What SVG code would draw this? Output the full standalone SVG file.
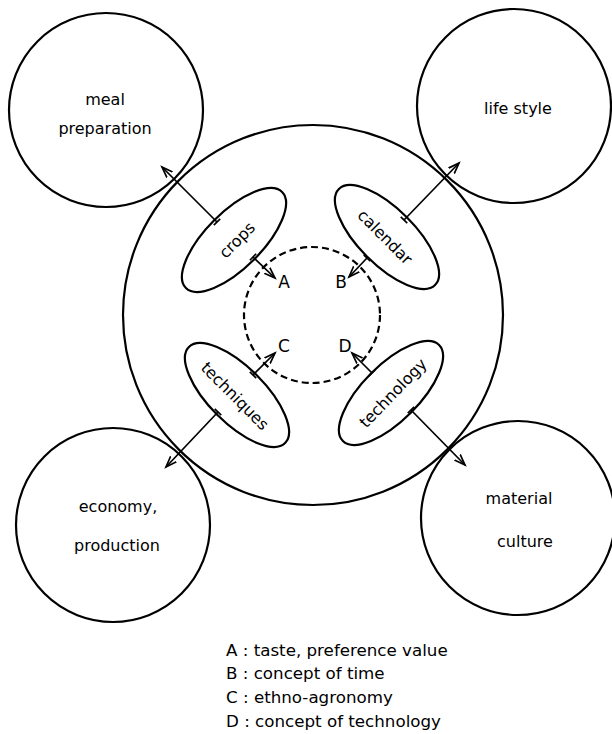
<svg xmlns="http://www.w3.org/2000/svg" width="612" height="734" viewBox="0 0 612 734">
<style>
.c{fill:none;stroke:#000;stroke-width:2.2}
.d{fill:none;stroke:#000;stroke-width:2.2;stroke-dasharray:7 4}
.a{fill:none;stroke:#000;stroke-width:1.7;marker-end:url(#ah);marker-start:url(#tk)}
text{font-family:"DejaVu Sans","Liberation Sans",sans-serif;font-size:16px;fill:#000}
.m{text-anchor:middle}
.l{font-size:17px}
.g{font-size:16.7px}
</style>
<defs>
<marker id="ah" markerUnits="userSpaceOnUse" markerWidth="14" markerHeight="12" refX="11" refY="5" orient="auto" viewBox="0 0 14 10">
<path d="M0,1 L11,5 L0,9" fill="none" stroke="#000" stroke-width="1.7"/>
</marker>
<marker id="tk" markerUnits="userSpaceOnUse" markerWidth="4" markerHeight="12" refX="2" refY="6" orient="auto" viewBox="0 0 4 12">
<path d="M2,1.5 L2,10.5" stroke="#000" stroke-width="1.7"/>
</marker>
</defs>
<g id="core">
<circle class="c" cx="313" cy="315" r="190"/>
<circle class="d" cx="312" cy="315" r="68"/>
</g>
<g id="meal">
<circle class="c" cx="106" cy="110" r="97"/>
<text class="m" x="105" y="105">meal</text>
<text class="m" x="105" y="134">preparation</text>
</g>
<g id="life">
<circle class="c" cx="514" cy="106" r="97"/>
<text class="m" x="518" y="114">life style</text>
</g>
<g id="economy">
<circle class="c" cx="113" cy="525" r="97"/>
<text class="m" x="118" y="512">economy,</text>
<text class="m" x="117" y="551">production</text>
</g>
<g id="material">
<circle class="c" cx="518" cy="518" r="97"/>
<text class="m" x="519" y="504">material</text>
<text class="m" x="525" y="547">culture</text>
</g>
<g id="crops">
<ellipse class="c" cx="234" cy="240" rx="68" ry="28" transform="rotate(-45 234 240)"/>
<text class="m" x="237" y="240" dy="0.35em" transform="rotate(-45 237 240)">crops</text>
</g>
<g id="calendar">
<ellipse class="c" cx="387" cy="237" rx="68" ry="28" transform="rotate(45 387 237)"/>
<text class="m" x="385" y="237" dy="0.35em" transform="rotate(45 385 237)">calendar</text>
</g>
<g id="techniques">
<ellipse class="c" cx="237" cy="395" rx="68" ry="28" transform="rotate(45 237 395)"/>
<text class="m" x="235" y="396" dy="0.35em" transform="rotate(45 235 396)">techniques</text>
</g>
<g id="technology">
<ellipse class="c" cx="391" cy="393" rx="68" ry="28" transform="rotate(-45 391 393)"/>
<text class="m" x="393" y="393" dy="0.35em" transform="rotate(-46 393 393)">technology</text>
</g>
<g id="labels">
<text class="m l" x="284" y="288">A</text>
<text class="m l" x="341" y="288">B</text>
<text class="m l" x="284" y="352">C</text>
<text class="m l" x="345" y="352">D</text>
</g>
<g id="connectors">
<line class="a" x1="217" y1="222" x2="162" y2="167"/>
<line class="a" x1="253" y1="257" x2="275" y2="278"/>
<line class="a" x1="404" y1="220" x2="459" y2="163"/>
<line class="a" x1="367" y1="258" x2="349" y2="277"/>
<line class="a" x1="253" y1="375" x2="275" y2="353"/>
<line class="a" x1="218" y1="412" x2="166" y2="467"/>
<line class="a" x1="372" y1="373" x2="352" y2="353"/>
<line class="a" x1="411" y1="410" x2="465" y2="465"/>
</g>
<g id="legend">
<text class="g" x="226" y="656">A : taste, preference value</text>
<text class="g" x="226" y="679">B : concept of time</text>
<text class="g" x="226" y="703">C : ethno-agronomy</text>
<text class="g" x="226" y="727">D : concept of technology</text>
</g>
</svg>
